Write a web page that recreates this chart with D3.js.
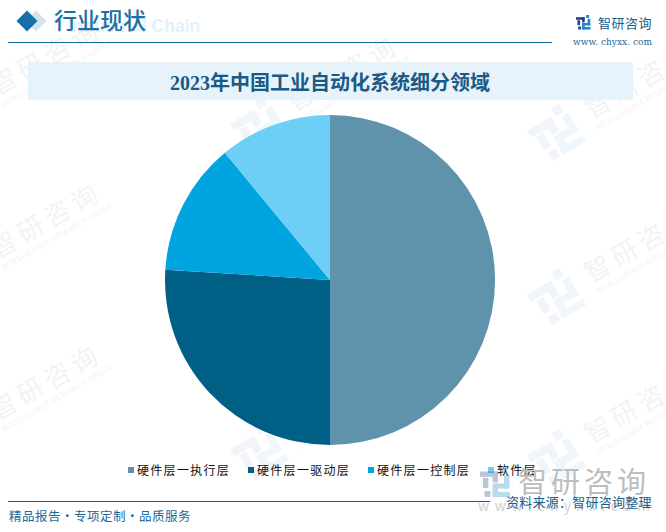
<!DOCTYPE html>
<html>
<head>
<meta charset="utf-8">
<script src="https://cdn.jsdelivr.net/npm/d3@7"></script>
<style>
  html, body { margin: 0; padding: 0; background: #fff; }
  svg { display: block; font-family: "Noto Sans CJK SC", sans-serif; }
</style>
</head>
<body>
<svg id="chart" width="666" height="532"></svg>
<script>
const categories = ["硬件层一执行层", "硬件层一驱动层", "硬件层一控制层", "软件层"];
const shares = [50, 26, 13, 11];
const colors = ["#5f93ab", "#005f85", "#00a4de", "#6dcff6"];
const legendX = [128, 248, 368, 488];
// logo centres of the repeated background mark
const watermarks = [[-39, 110], [-39, 273], [-39, 435], [258, 126], [258, 289], [258, 452], [555, 133], [555, 297], [555, 458]];

const svg = d3.select("#chart");

// logo: left half and right half are built from small blocks on a 10x10 grid
const logoLeft = [[0, 1.5, 6, 1.8], [4.2, 1.5, 1.8, 3.6], [1, 3.6, 1.8, 3.4], [1.5, 8, 2, 2]];
const logoRight = [[7, 0, 2, 2], [8, 2.6, 1.8, 4.6], [4.4, 5.5, 5.4, 1.7], [4.2, 5.5, 1.8, 4.5], [4.2, 8.3, 5.8, 1.7]];

function logo(g, s, cLeft, cRight) {
  [[logoLeft, cLeft], [logoRight, cRight]].forEach(([blocks, c]) => {
    g.append("g").selectAll("rect").data(blocks).join("rect")
      .attr("x", d => d[0] * s).attr("y", d => d[1] * s)
      .attr("width", d => d[2] * s).attr("height", d => d[3] * s)
      .attr("fill", c);
  });
}

// faint diagonal watermarks go first, everything else sits on top
const wm = svg.append("g").selectAll("g").data(watermarks).join("g")
  .attr("transform", d => `translate(${d[0]},${d[1]}) rotate(-30)`);
wm.each(function() {
  logo(d3.select(this).append("g").attr("transform", "translate(-23,-23)"), 4.6, "#f1f4f8", "#f0f7fc");
});
wm.append("text")
  .attr("x", 38).attr("y", 6)
  .attr("font-size", 26)
  .attr("letter-spacing", 5)
  .attr("fill", "#f3f3f3")
  .text("智研咨询");
wm.append("text")
  .attr("x", 38).attr("y", 19)
  .attr("font-size", 7.5)
  .attr("textLength", 127)
  .attr("fill", "#f3f3f3")
  .text("INTELLIGENCE RESEARCH GROUP");

// header
svg.append("text").attr("x", 68).attr("y", 32)
  .attr("font-size", 17.5).attr("font-weight", 700)
  .attr("font-family", "Liberation Sans")
  .attr("fill", "#e3f1fb")
  .text("Industrial Chain");
svg.append("path").attr("d", "M0,-10.5L10.5,0L0,10.5L-10.5,0Z")
  .attr("transform", "translate(36,21)").attr("fill", "#d3e4ef");
svg.append("path").attr("d", "M0,-10.5L10.5,0L0,10.5L-10.5,0Z")
  .attr("transform", "translate(27,21)").attr("fill", "#166fa8");
svg.append("text").attr("x", 54).attr("y", 29)
  .attr("font-size", 23).attr("font-weight", 500).attr("fill", "#1d6fa5")
  .text("行业现状");
svg.append("line").attr("x1", 8).attr("x2", 552).attr("y1", 42.5).attr("y2", 42.5)
  .attr("stroke", "#116a9c").attr("stroke-width", 1);

// top right logo
logo(svg.append("g").attr("transform", "translate(576,15)"), 1.45, "#24408e", "#1c87cc");
svg.append("text").attr("x", 598).attr("y", 28)
  .attr("font-size", 13).attr("letter-spacing", 0.5).attr("fill", "#1a5e8a")
  .text("智研咨询");
svg.append("text").attr("x", 573).attr("y", 45)
  .attr("font-size", 9).attr("font-family", "DejaVu Serif").attr("fill", "#1a6a9a")
  .attr("textLength", 79)
  .text("www. chyxx. com");

// chart title band
svg.append("rect").attr("x", 28).attr("y", 62).attr("width", 605).attr("height", 38).attr("fill", "#e6f3fb");
svg.append("text").attr("x", 330).attr("y", 90)
  .attr("text-anchor", "middle")
  .attr("font-family", "'Liberation Serif', 'Noto Sans CJK SC'")
  .attr("font-size", 20).attr("font-weight", 700).attr("fill", "#1a5a85")
  .text("2023年中国工业自动化系统细分领域");

// pie
const color = d3.scaleOrdinal().domain(categories).range(colors);
const pie = d3.pie().sort(null).value((d, i) => shares[i]);
const arc = d3.arc().innerRadius(0).outerRadius(165);
svg.append("g").attr("transform", "translate(330,280)")
  .selectAll("path").data(pie(categories)).join("path")
  .attr("d", arc)
  .attr("fill", d => color(d.data));

// legend
const legend = svg.append("g").selectAll("g").data(categories).join("g")
  .attr("transform", (d, i) => `translate(${legendX[i]},466)`);
legend.append("rect").attr("y", 1).attr("width", 6).attr("height", 6).attr("fill", d => color(d));
legend.append("text").attr("x", 9).attr("y", 9)
  .attr("font-size", 12).attr("letter-spacing", 1.3).attr("fill", "#111")
  .text(d => d);

// big watermark bottom right, drawn over the legend
logo(svg.append("g").attr("transform", "translate(480,467)").attr("opacity", 0.3), 3, "#24408e", "#1c87cc");
svg.append("text").attr("x", 518).attr("y", 493)
  .attr("font-size", 29).attr("letter-spacing", 4).attr("fill", "#bdbdbd")
  .text("智研咨询");
svg.append("text").attr("x", 478).attr("y", 511)
  .attr("font-size", 14).attr("textLength", 172).attr("fill", "#d0d0d0")
  .text("www.chyxx.com");

// footer
svg.append("line").attr("x1", 8).attr("x2", 490).attr("y1", 501.5).attr("y2", 501.5)
  .attr("stroke", "#1a5e8a").attr("stroke-width", 1);
svg.append("text").attr("x", 9).attr("y", 521)
  .attr("font-size", 12.5).attr("letter-spacing", 0.5).attr("fill", "#1a6a9a")
  .text("精品报告·专项定制·品质服务");
svg.append("text").attr("x", 506).attr("y", 507)
  .attr("font-size", 13).attr("letter-spacing", 0.25).attr("fill", "#1a5e8a")
  .text("资料来源：智研咨询整理");
</script>
</body>
</html>
